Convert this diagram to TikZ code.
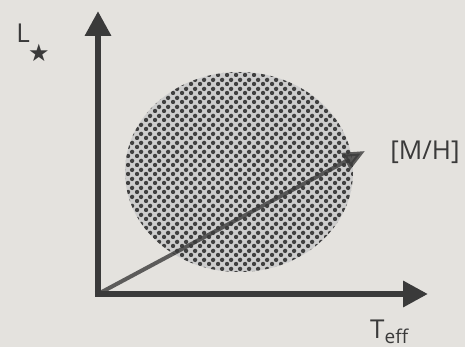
\documentclass[tikz,border=0pt]{standalone}
\usepackage{fontspec}
\setmainfont{Open Sans}
\newfontfamily\symfont{DejaVu Sans}
\usepackage{tikz}
\usetikzlibrary{positioning,arrows.meta,patterns}
\definecolor{paper}{HTML}{E4E2DE}
\definecolor{ink}{HTML}{3A3A3A}
\definecolor{dotbase}{HTML}{CDCDCD}
\definecolor{dotdark}{HTML}{404040}
\pgfdeclarepatternformonly{halftone}{\pgfqpoint{0pt}{0pt}}{\pgfqpoint{9pt}{9pt}}{\pgfqpoint{9pt}{9pt}}{%
  \pgfpathcircle{\pgfqpoint{2.25pt}{2.25pt}}{2.4pt}%
  \pgfpathcircle{\pgfqpoint{6.75pt}{6.75pt}}{2.4pt}%
  \pgfusepath{fill}}

\begin{document}
\begin{tikzpicture}[x=1pt,y=-1pt]
\tikzstyle{axis}=[draw=ink, line width=6.5pt, -{Triangle[length=25pt,width=25pt]}]
\tikzstyle{metal}=[draw=ink, line width=4pt, opacity=.8, -{Triangle[length=22pt,width=18pt]}]
\tikzstyle{lbl}=[text=ink, inner sep=0pt, font=\fontsize{26}{28}\selectfont]
\fill[paper] (0,0) rectangle (465,347);
\useasboundingbox (0,0) rectangle (465,347);
\coordinate (O) at (98,294);
\coordinate (ytip) at (98,11);
\coordinate (xtip) at (428,294);
\coordinate (ztip) at (365,151);
% the spread of the stars
\fill[dotbase] (239,172) ellipse [x radius=114, y radius=100];
\fill[pattern=halftone, pattern color=dotdark] (239,172) ellipse [x radius=114, y radius=100];
\draw[axis] ([yshift=3.25pt]O) -- (ytip);
\draw[axis] ([xshift=-3.25pt]O) -- (xtip);
\draw[metal] (O) -- (ztip);
\node[lbl] (lum) at (23,33) {L};
\node[lbl, font=\symfont\fontsize{24}{26}\selectfont] (star) at (39,53) {★};
\node[lbl] (mh) at (425,152) {[M/H]};
\node[lbl, anchor=west] (teff) at (370,332) {T\raisebox{-5pt}{\fontsize{19}{20}\selectfont eff}};
\end{tikzpicture}
\end{document}
